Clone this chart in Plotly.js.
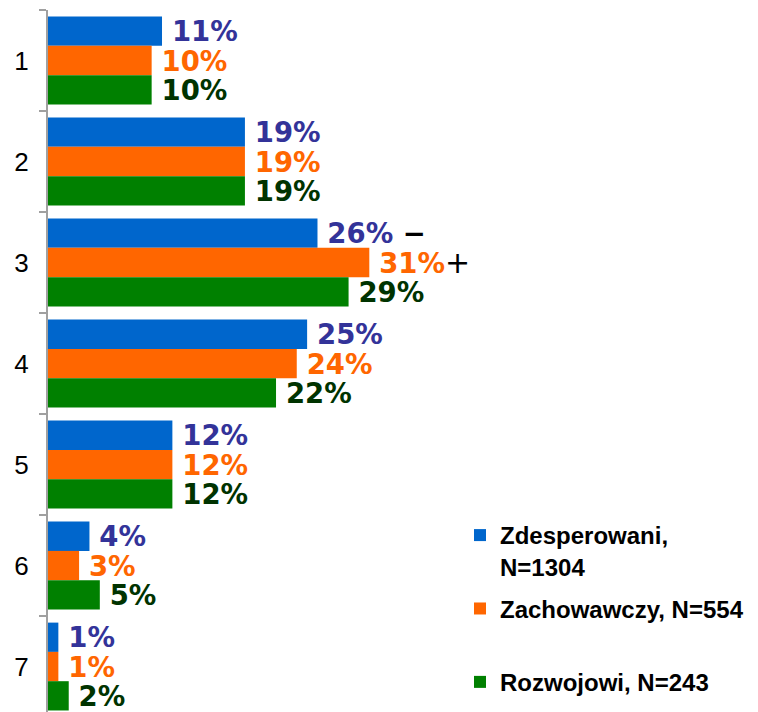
<!DOCTYPE html>
<html>
<head>
<meta charset="utf-8">
<script src="https://cdn.plot.ly/plotly-3.0.1.min.js"></script>
<style>html,body{margin:0;padding:0;background:#fff;}#chart{width:758px;height:712px;}</style>
</head>
<body>
<div id="chart"></div>
<script>
// Data
var categories = ['1', '2', '3', '4', '5', '6', '7'];
var seriesNames = ['Zdesperowani,<br>N=1304', 'Zachowawczy, N=554<br> ', 'Rozwojowi, N=243'];
var zdesperowani = [11, 19, 26, 25, 12, 4, 1];
var zachowawczy = [10, 19, 31, 24, 12, 3, 1];
var rozwojowi = [10, 19, 29, 22, 12, 5, 2];
// significance marks shown after labels
var marksZdesperowani = ['', '', ' <span style="color:#000000">\u2212</span>', '', '', '', ''];
var marksZachowawczy = ['', '', '<span style="color:#000000;font-weight:normal;font-size:30px">+</span>', '', '', '', ''];
var marksRozwojowi = ['', '', '', '', '', '', ''];

var barColors = ['#0066CC', '#FF6600', '#008000'];
var labelColors = ['#333399', '#FF6600', '#003300'];

function labels(vals, marks) {
  return vals.map(function (v, i) { return '\u2005' + v + '%' + marks[i]; });
}

var seriesValues = [zdesperowani, zachowawczy, rozwojowi];
var seriesMarks = [marksZdesperowani, marksZachowawczy, marksRozwojowi];

var traces = seriesValues.map(function (vals, k) {
  return {
    type: 'bar',
    orientation: 'h',
    name: seriesNames[k],
    legendgroup: 'g' + k,
    y: categories,
    x: vals,
    text: labels(vals, seriesMarks[k]),
    textposition: 'outside',
    constraintext: 'none',
    cliponaxis: false,
    textfont: { family: 'DejaVu Sans', size: 27.5, weight: 'bold', color: labelColors[k] },
    marker: { color: barColors[k], line: { width: 0 } },
    hoverinfo: 'skip'
  };
});

var layout = {
  width: 758,
  height: 712,
  margin: { l: 48, r: 0, t: 10, b: 0, pad: 0 },
  paper_bgcolor: '#ffffff',
  plot_bgcolor: '#ffffff',
  barmode: 'group',
  bargap: 0.13,
  bargroupgap: 0,
  showlegend: true,
  legend: {
    x: 0.5803, xanchor: 'left',
    y: 0.2835, yanchor: 'top',
    bgcolor: 'rgba(0,0,0,0)',
    borderwidth: 0,
    valign: 'top',
    traceorder: 'grouped',
    tracegroupgap: 8,
    font: { family: 'Liberation Sans, Arial, sans-serif', size: 24, weight: 'bold', color: '#000000' }
  },
  xaxis: {
    visible: false,
    range: [0, 68.5],
    fixedrange: true
  },
  yaxis: {
    type: 'category',
    categoryorder: 'array',
    categoryarray: categories,
    range: [6.45, -0.5],
    tickson: 'boundaries',
    ticks: 'outside',
    ticklen: 7,
    tickwidth: 2,
    tickcolor: '#A0A0A0',
    showline: true,
    linecolor: '#A0A0A0',
    linewidth: 2,
    showgrid: false,
    zeroline: false,
    ticklabelstandoff: 12,
    tickfont: { family: 'Liberation Sans, Arial, sans-serif', size: 26, color: '#000000' },
    fixedrange: true
  }
};

Plotly.newPlot('chart', traces, layout, { displayModeBar: false, staticPlot: true });
</script>
</body>
</html>
